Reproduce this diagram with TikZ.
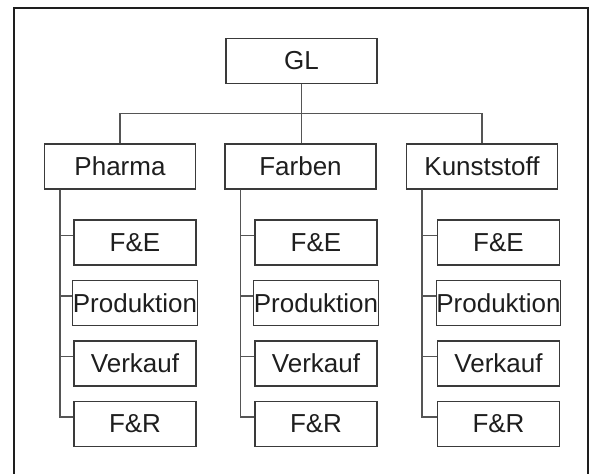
\documentclass[tikz,border=0pt]{standalone}
\usepackage{fontspec}
\setmainfont{Liberation Sans}
\usetikzlibrary{calc}
\definecolor{inkc}{HTML}{1E1E1E}
\definecolor{linec}{HTML}{555555}
\definecolor{boxc}{HTML}{3A3A3A}
\begin{document}
\begin{tikzpicture}[x=1pt,y=-1pt,
  unit/.style={draw=boxc,line width=1.2pt,inner sep=0pt,text=inkc,
    font=\fontsize{26}{28}\selectfont,minimum height=45pt},
  head/.style={unit,minimum width=151pt},
  dept/.style={unit,minimum width=122pt},
  conn/.style={draw=linec,line width=1.2pt},
  frame/.style={draw=inkc,line width=1.3pt}]
\useasboundingbox (0,0) rectangle (593,473);
% outer frame, open at the bottom
\draw[frame] (14,480) -- (14,8) -- (588,8) -- (588,480);

% management and divisions
\node[unit,minimum width=151pt] (gl) at (301.5,61) {GL};
\node[head] (pa) at (120,166.5) {Pharma};
\node[head] (fa) at (300.5,166.5) {Farben};
\node[head] (ku) at (482,166.5) {Kunststoff};

% departments of each division
\foreach \div/\cx in {pa/135,fa/316,ku/498.5}{
  \node[dept] (\div1) at (\cx,242.5) {F\&E};
  \node[dept] (\div2) at (\cx,303) {Produktion};
  \node[dept] (\div3) at (\cx,363.5) {Verkauf};
  \node[dept] (\div4) at (\cx,424) {F\&R};
}

% management to divisions
\draw[conn] (pa.north) |- ++(0,-30) -| (ku.north);
\draw[conn] (gl.south) -- (gl.south |- fa.north);

% division spines to departments
\foreach \div in {pa,fa,ku}{
  \foreach \k in {1,2,3,4}{
    \draw[conn] ($(\div.south west)+(16,0)$) |- ($(\div\k.west)+(0,-7)$);
  }
}
\end{tikzpicture}
\end{document}
